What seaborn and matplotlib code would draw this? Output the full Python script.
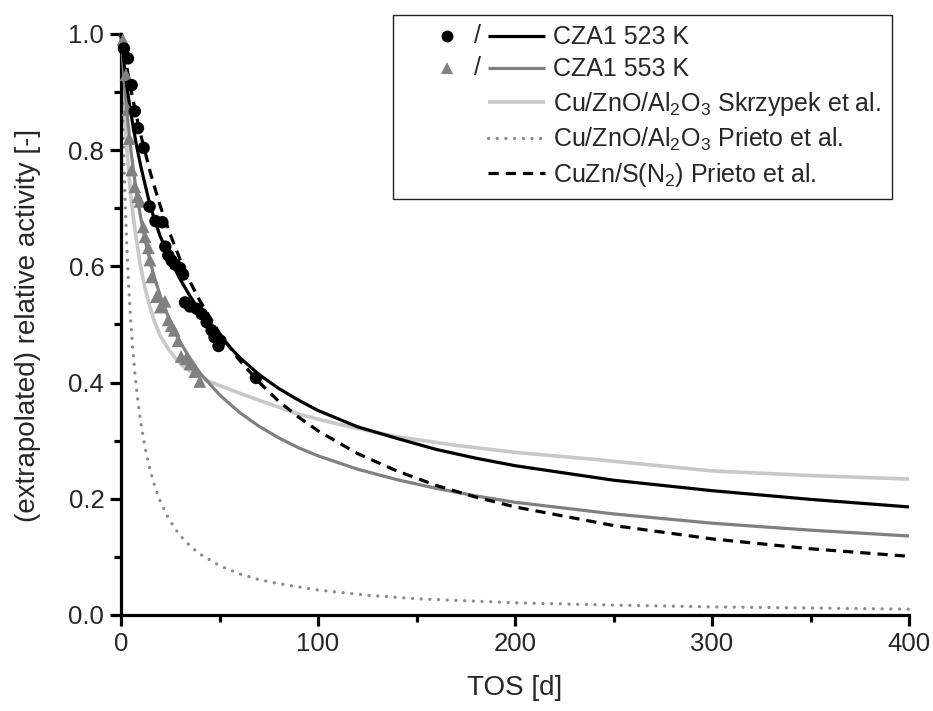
import matplotlib
matplotlib.use("Agg")
import pandas as pd
import matplotlib.pyplot as plt
import seaborn as sns
from matplotlib.legend_handler import HandlerBase
from matplotlib.lines import Line2D
from matplotlib.text import Text
from matplotlib.ticker import MultipleLocator, FormatStrFormatter

# ---- measured activities (time on stream in days, relative activity) ----
cza1_523_tos = [1.5, 3.5, 5.4, 7.0, 8.6, 11.5, 14.5, 17.5, 21.0, 22.5, 24.0, 25.7,
                27.5, 30.0, 31.5, 32.5, 35.0, 38.5, 41.0, 43.5, 46.0, 47.5, 49.5,
                50.5, 68.5]
cza1_523_act = [0.975, 0.958, 0.912, 0.867, 0.838, 0.804, 0.703, 0.678, 0.676,
                0.634, 0.619, 0.610, 0.603, 0.597, 0.586, 0.538, 0.531, 0.527,
                0.518, 0.504, 0.490, 0.478, 0.463, 0.472, 0.408]

cza1_553_tos = [1.0, 2.5, 3.5, 4.2, 5.4, 7.0, 8.5, 9.6, 11.3, 12.2, 13.9, 14.7,
                15.6, 18.0, 20.0, 22.3, 24.0, 25.5, 27.0, 29.0, 30.5, 33.0, 35.0,
                37.5, 40.0]
cza1_553_act = [0.99, 0.93, 0.87, 0.82, 0.766, 0.737, 0.72, 0.712, 0.668, 0.651,
                0.632, 0.611, 0.582, 0.548, 0.53, 0.54, 0.508, 0.498, 0.49, 0.472,
                0.445, 0.441, 0.432, 0.419, 0.402]

# ---- deactivation curves ----
fit_523_tos = [0, 1, 2, 3, 4, 5, 6.5, 8, 10, 12, 14.7, 17.5, 20, 25, 30, 35, 40,
               45, 50, 60, 70, 80, 90, 100, 120, 140, 160, 180, 200, 250, 300,
               350, 400]
fit_523_act = [1.0, 0.967, 0.937, 0.91, 0.886, 0.864, 0.834, 0.806, 0.773, 0.744,
               0.706, 0.675, 0.651, 0.612, 0.578, 0.549, 0.524, 0.501, 0.480,
               0.444, 0.414, 0.390, 0.370, 0.352, 0.324, 0.304, 0.285, 0.270,
               0.257, 0.232, 0.214, 0.199, 0.186]

fit_553_tos = [0, 1, 2, 3, 5, 7.5, 10, 12.5, 15, 17.5, 20, 25, 30, 35, 40, 50, 60,
               70, 80, 90, 100, 120, 140, 160, 180, 200, 250, 300, 350, 400]
fit_553_act = [1.0, 0.948, 0.904, 0.865, 0.800, 0.735, 0.684, 0.641, 0.606,
               0.575, 0.549, 0.505, 0.470, 0.442, 0.417, 0.379, 0.349, 0.325,
               0.305, 0.288, 0.274, 0.251, 0.233, 0.218, 0.205, 0.194, 0.174,
               0.158, 0.146, 0.136]

skrzypek_tos = [0, 1, 2, 3, 5, 7, 9.6, 12, 14.7, 17, 20, 24, 27.4, 31, 35, 42.6,
                50, 60, 73, 91, 103.6, 120, 140, 170, 200, 243, 300, 350, 400]
skrzypek_act = [1.0, 0.91, 0.85, 0.80, 0.72, 0.665, 0.606, 0.565, 0.53, 0.505,
                0.48, 0.458, 0.443, 0.43, 0.42, 0.405, 0.395, 0.382, 0.366,
                0.345, 0.334, 0.321, 0.307, 0.292, 0.280, 0.267, 0.248, 0.240,
                0.234]

prieto_cza_tos = [0, 0.5, 1, 1.5, 2, 3, 4, 5, 6, 7, 8, 9, 10, 12, 14, 16, 18, 20,
                  24, 28, 32, 36, 40, 50, 60, 70, 80, 100, 125, 150, 200, 250,
                  300, 350, 400]
prieto_cza_act = [1.0, 0.912, 0.838, 0.774, 0.720, 0.630, 0.560, 0.503, 0.457,
                  0.418, 0.385, 0.357, 0.332, 0.292, 0.260, 0.234, 0.213, 0.195,
                  0.167, 0.146, 0.129, 0.116, 0.105, 0.085, 0.071, 0.061, 0.054,
                  0.043, 0.034, 0.028, 0.021, 0.017, 0.014, 0.012, 0.010]

prieto_cuzn_tos = [0, 2, 5, 7.5, 10, 15, 20, 25, 30, 35, 40, 50, 60, 70, 80, 90,
                   100, 120, 140, 160, 180, 200, 250, 300, 350, 400]
prieto_cuzn_act = [1.0, 0.960, 0.905, 0.864, 0.827, 0.760, 0.703, 0.655, 0.612,
                   0.574, 0.541, 0.485, 0.439, 0.401, 0.368, 0.341, 0.317, 0.278,
                   0.248, 0.223, 0.203, 0.186, 0.154, 0.131, 0.114, 0.101]

legend_labels = ["CZA1 523 K", "CZA1 553 K",
                 "Cu/ZnO/Al$_2$O$_3$ Skrzypek et al.",
                 "Cu/ZnO/Al$_2$O$_3$ Prieto et al.",
                 "CuZn/S(N$_2$) Prieto et al."]

BLACK = "#000000"
MID_GRAY = "#808080"
LIGHT_GRAY = "#c8c8c8"
DOT_GRAY = "#8c8c8c"

sns.set_style("ticks")
plt.rcParams["font.family"] = ["Liberation Sans", "DejaVu Sans"]
plt.rcParams["mathtext.fontset"] = "custom"
plt.rcParams["mathtext.rm"] = "Liberation Sans"
plt.rcParams["mathtext.it"] = "Liberation Sans:italic"
plt.rcParams["mathtext.bf"] = "Liberation Sans:bold"

fig = plt.figure(figsize=(9.33, 7.11), dpi=100)
ax = fig.add_axes([121 / 933, 1 - 615 / 711, 788 / 933, 581 / 711])

LW = 2.3
DOTS = (0.01, 2.6)
DASHES = (3.2, 2.2)


def curve(x, y, color, lw=LW, dashes=None, cap="butt", z=2):
    df = pd.DataFrame({"x": x, "y": y})
    sns.lineplot(data=df, x="x", y="y", ax=ax, color=color, lw=lw,
                 estimator=None, sort=False, zorder=z)
    line = ax.lines[-1]
    if dashes is not None:
        line.set_dashes(dashes)
    line.set_dash_capstyle(cap)
    line.set_solid_capstyle("butt")
    line.set_solid_joinstyle("round")
    line.set_clip_on(False)
    return line


curve(skrzypek_tos, skrzypek_act, LIGHT_GRAY, lw=2.6, z=2)
curve(prieto_cza_tos, prieto_cza_act, DOT_GRAY, lw=2.4, dashes=DOTS,
      cap="round", z=2)
curve(fit_553_tos, fit_553_act, MID_GRAY, z=3)
curve(fit_523_tos, fit_523_act, BLACK, z=4)
curve(prieto_cuzn_tos, prieto_cuzn_act, BLACK, dashes=DASHES, z=4)

sns.scatterplot(x=cza1_553_tos, y=cza1_553_act, ax=ax, marker="^", s=85,
                color=MID_GRAY, edgecolor="none", linewidth=0, zorder=5,
                clip_on=False)
sns.scatterplot(x=cza1_523_tos, y=cza1_523_act, ax=ax, marker="o", s=80,
                color=BLACK, edgecolor="none", linewidth=0, zorder=6,
                clip_on=False)

ax.set_xlim(0, 400)
ax.set_ylim(0, 1.0)
ax.xaxis.set_major_locator(MultipleLocator(100))
ax.xaxis.set_minor_locator(MultipleLocator(50))
ax.yaxis.set_major_locator(MultipleLocator(0.2))
ax.yaxis.set_minor_locator(MultipleLocator(0.1))
ax.yaxis.set_major_formatter(FormatStrFormatter("%.1f"))
for side in ("top", "right"):
    ax.spines[side].set_visible(False)
for side in ("left", "bottom"):
    ax.spines[side].set_linewidth(2.3)
    ax.spines[side].set_color(BLACK)
ax.tick_params(which="major", direction="out", length=8, width=2.3,
               labelsize=18.5, color=BLACK, pad=4)
ax.tick_params(which="minor", direction="out", length=5, width=2.3, color=BLACK)
ax.set_xlabel("")
ax.set_ylabel("")

fig.text(515 / 933, 1 - 688 / 711, "TOS [d]", fontsize=20,
         ha="center", va="center")
fig.text(28 / 933, 1 - 325 / 711, "(extrapolated) relative activity [-]",
         fontsize=20, rotation=90, ha="center", va="center")

# positions inside the legend key, as fractions of the key width
KEY_MARKER, KEY_SLASH, KEY_LINE0 = 43.5 / 141, 74.5 / 141, 84.5 / 141


class MarkerSlashLine(HandlerBase):
    """Legend key: optional marker, a slash, then a short line sample."""

    def __init__(self, marker=None, mcolor=None, msize=8, slash=False,
                 lcolor=BLACK, lw=LW, dashes=None, cap="butt"):
        super().__init__()
        self.marker, self.mcolor, self.msize = marker, mcolor, msize
        self.slash = slash
        self.lcolor, self.lw, self.dashes, self.cap = lcolor, lw, dashes, cap

    def create_artists(self, legend, orig_handle, xdescent, ydescent, width,
                       height, fontsize, trans):
        y = height / 2 - ydescent
        x0 = -xdescent
        arts = []
        if self.marker is not None:
            arts.append(Line2D([x0 + width * KEY_MARKER], [y], marker=self.marker,
                               markersize=self.msize, color=self.mcolor,
                               ls="none", markeredgewidth=0, transform=trans))
        if self.slash:
            arts.append(Text(x0 + width * KEY_SLASH, y, "/", fontsize=fontsize,
                             ha="center", va="center", transform=trans))
        ln = Line2D([x0 + width * KEY_LINE0, x0 + width], [y, y],
                    color=self.lcolor, lw=self.lw, transform=trans)
        ln.set_solid_capstyle("butt")
        if self.dashes is not None:
            ln.set_dashes(self.dashes)
            ln.set_dash_capstyle(self.cap)
        arts.append(ln)
        return arts


handles = [object() for _ in legend_labels]
handlers = [
    MarkerSlashLine("o", BLACK, 8.5, True, BLACK),
    MarkerSlashLine("^", MID_GRAY, 9, True, MID_GRAY),
    MarkerSlashLine(lcolor=LIGHT_GRAY, lw=2.6),
    MarkerSlashLine(lcolor=DOT_GRAY, lw=2.4, dashes=DOTS, cap="round"),
    MarkerSlashLine(lcolor=BLACK, dashes=DASHES),
]
leg = fig.legend(handles, legend_labels,
                 handler_map={h: hd for h, hd in zip(handles, handlers)},
                 loc="upper left", bbox_to_anchor=(393 / 933, 1 - 15 / 711),
                 bbox_transform=fig.transFigure, borderaxespad=0,
                 fontsize=18, handlelength=5.64, handletextpad=0.34,
                 labelspacing=0.32, borderpad=0.42, frameon=True,
                 fancybox=False, framealpha=1, edgecolor="#222222")
leg.get_frame().set_linewidth(1.0)

fig.savefig("out.png", dpi=100)
